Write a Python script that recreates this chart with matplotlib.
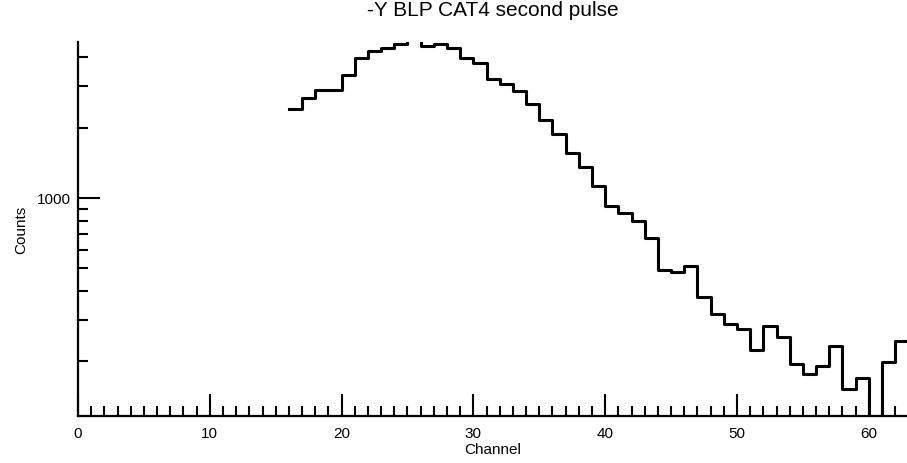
"""
Step histogram of counts per channel, log y axis.
"""
import matplotlib
matplotlib.use("Agg")
import matplotlib.pyplot as plt
import numpy as np
from matplotlib.ticker import MultipleLocator, FixedLocator, FixedFormatter, NullFormatter

TITLE = "-Y BLP CAT4 second pulse"

# channel of the left edge of each bin
channels = list(range(16, 63))
# counts (bin 25 runs off the top, bin 60 is empty)
counts = [2400, 2680, 2910, 2900, 3350, 3990, 4260, 4390, 4560, 4900,
          4460, 4570, 4390, 3990, 3770, 3230, 3080, 2880, 2530, 2160,
          1870, 1550, 1350, 1120, 920, 863, 795, 672, 492, 481,
          510, 378, 319, 289, 275, 224, 282, 253, 195, 176,
          190, 233, 152, 170, 0, 199, 243]

y_major = [1000]
y_minor = [200, 300, 400, 500, 600, 700, 800, 900, 2000, 3000, 4000]


def main():
    plt.rcParams['font.family'] = ['Liberation Sans', 'DejaVu Sans']

    fig = plt.figure(figsize=(9.07, 4.64), dpi=100)
    ax = fig.add_axes([78 / 907, 47 / 464, 829 / 907, 374 / 464])

    # step line, one bin per channel
    x = np.append(channels, channels[-1] + 1)
    y = np.append(counts, counts[-1])
    ax.set_yscale('log', nonpositive='clip')
    ax.step(x, y, where='post', color='black', linewidth=2.2)

    ax.set_xlim(0, 62.9)
    ax.set_ylim(116.6, 4650)

    for side in ['top', 'right']:
        ax.spines[side].set_visible(False)
    for side in ['left', 'bottom']:
        ax.spines[side].set_linewidth(1.6)

    ax.xaxis.set_major_locator(MultipleLocator(10))
    ax.xaxis.set_minor_locator(MultipleLocator(1))
    ax.yaxis.set_major_locator(FixedLocator(y_major))
    ax.yaxis.set_major_formatter(FixedFormatter([str(v) for v in y_major]))
    ax.yaxis.set_minor_locator(FixedLocator(y_minor))
    ax.yaxis.set_minor_formatter(NullFormatter())

    ax.tick_params(which='major', direction='in', length=16, width=1.5,
                   labelsize=11, pad=5)
    ax.tick_params(axis='x', which='major', pad=7)
    ax.tick_params(which='minor', direction='in', length=7.5, width=1.5)

    ax.set_xlabel("Channel", fontsize=11, labelpad=2)
    ax.set_ylabel("Counts", fontsize=11, labelpad=6)
    fig.text(0.5 + 0.5 * 78 / 907, 1 - 11 / 464, TITLE, ha='center', va='center', fontsize=15)

    fig.savefig("out.png", dpi=100)


if __name__ == '__main__':
    main()
